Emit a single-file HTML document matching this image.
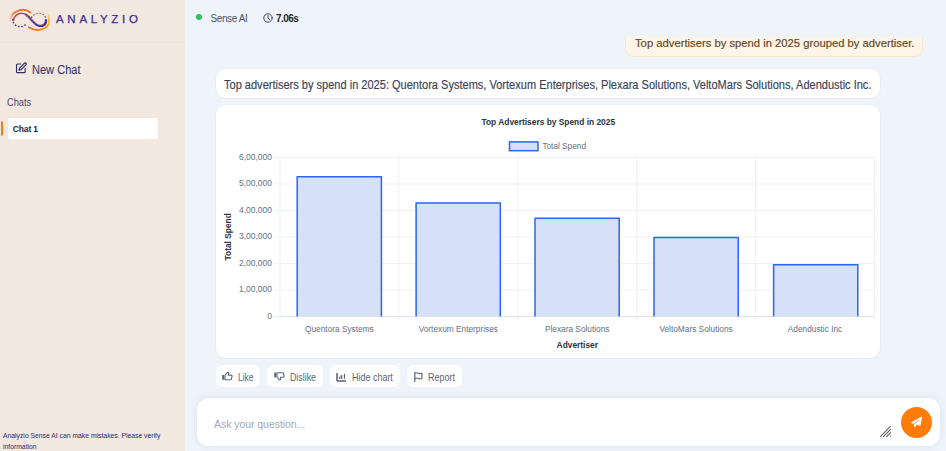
<!DOCTYPE html>
<html><head><meta charset="utf-8">
<style>
*{box-sizing:border-box;margin:0;padding:0}
html,body{width:946px;height:451px;overflow:hidden;font-family:"Liberation Sans",sans-serif;background:#eff4fb}
.abs{position:absolute}
#side{position:absolute;left:0;top:0;width:185px;height:451px;background:#f2e8df}
#side .sep{position:absolute;left:0;top:42px;width:185px;height:1px;background:#eee3d9}
.brand{-webkit-text-stroke:0.25px #3b2c8c;position:absolute;left:56px;top:12px;font-size:11.5px;letter-spacing:3.7px;color:#3b2c8c;line-height:14px}
.newchat{transform:scaleX(0.92);transform-origin:0 0;-webkit-text-stroke:0.1px #33376a;position:absolute;left:32px;top:63.2px;font-size:12px;color:#33376a;line-height:14px}
.chats{transform:scaleX(0.9);transform-origin:0 0;position:absolute;left:7px;top:96.6px;font-size:10.3px;color:#4a4670;line-height:12px}
.chat1{position:absolute;left:8px;top:118px;width:150px;height:21px;background:#fff;border-radius:2px}
.chat1 span{position:absolute;left:4.7px;top:6.3px;font-size:8.5px;letter-spacing:-0.12px;font-weight:bold;color:#1e1d4f;line-height:10px}
.obar{position:absolute;left:0.8px;top:120.8px;width:2.6px;height:15px;background:#ff7a00;border-radius:0 2px 2px 0}
.foot{transform:scaleX(0.905);transform-origin:0 0;position:absolute;left:3px;top:431.2px;width:190px;font-size:7.5px;color:#2b2a66;line-height:10.7px}
#main{position:absolute;left:185px;top:0;width:761px;height:451px}
.dot{position:absolute;left:196px;top:14px;width:6px;height:6px;border-radius:50%;background:#22c55e}
.sense{position:absolute;left:210.5px;top:13px;font-size:10px;letter-spacing:-0.4px;color:#4d5566;line-height:12px}
.time{position:absolute;left:276px;top:12.6px;font-size:10px;font-weight:bold;letter-spacing:-0.55px;color:#1f2633;line-height:12px}
.ubub{position:absolute;left:625px;top:37px;width:298px;height:20px;background:#fef4e7;border:1px solid #fde7c9;border-top:none;border-radius:0 0 9px 9px}
.ubub span{-webkit-text-stroke:0.15px #62451c;transform:scaleX(0.97);transform-origin:0 0;position:absolute;left:9px;top:-1.4px;font-size:11.6px;letter-spacing:0px;color:#62451c;line-height:14px;white-space:nowrap}
.aibub{position:absolute;left:214.5px;top:68.3px;width:666.5px;height:30.7px;background:#fff;border:1px solid #e9edf4;border-radius:11px}
.aibub span{-webkit-text-stroke:0.15px #3a4257;transform:scaleX(0.897);transform-origin:0 0;position:absolute;left:8.6px;top:8.7px;font-size:12.3px;letter-spacing:0px;color:#3a4257;line-height:14px;white-space:nowrap}
.card{position:absolute;left:214.5px;top:104.3px;width:666.5px;height:254.7px;background:#fff;border:1px solid #e9edf4;border-radius:11px}
.btn{position:absolute;top:364.8px;height:22px;background:#fff;border:1px solid #fdfeff;border-radius:6px}
.btn span{transform-origin:0 0;position:absolute;top:5.8px;font-size:10.2px;color:#5b6579;line-height:12px;white-space:nowrap}
.btn svg{position:absolute;top:5.5px}
.inputbox{position:absolute;left:197px;top:398px;width:743px;height:48px;background:#fff;border-radius:12px;box-shadow:0 0 8px rgba(30,50,90,0.10)}
.ph{position:absolute;left:214px;top:418.4px;font-size:10.5px;letter-spacing:-0.05px;color:#a2a8b3;line-height:13px}
.send{position:absolute;left:901px;top:407px;width:31px;height:31px;border-radius:50%;background:#ff7c0a}
</style></head><body>
<div id="side">
  <svg class="abs" style="left:6px;top:4px" width="48" height="30" viewBox="0 0 48 30">
    <defs>
      <linearGradient id="g1" gradientUnits="userSpaceOnUse" x1="3" y1="14" x2="25" y2="6"><stop offset="0" stop-color="#f2b58a" stop-opacity="0.5"/><stop offset="0.25" stop-color="#ef7a30"/><stop offset="1" stop-color="#f07020"/></linearGradient>
      <linearGradient id="g2" gradientUnits="userSpaceOnUse" x1="22" y1="24" x2="43" y2="10"><stop offset="0" stop-color="#f06a1a"/><stop offset="0.6" stop-color="#f59a20"/><stop offset="0.9" stop-color="#f5c040"/><stop offset="1" stop-color="#f5d070" stop-opacity="0.4"/></linearGradient>
      <linearGradient id="g3" gradientUnits="userSpaceOnUse" x1="7" y1="10" x2="40" y2="20"><stop offset="0" stop-color="#c0604a"/><stop offset="0.45" stop-color="#7a4478"/><stop offset="1" stop-color="#4b2f98"/></linearGradient>
      <linearGradient id="g4" gradientUnits="userSpaceOnUse" x1="25" y1="10" x2="40" y2="16"><stop offset="0" stop-color="#5a3c9a"/><stop offset="0.3" stop-color="#c27070"/><stop offset="0.7" stop-color="#c86850"/><stop offset="1" stop-color="#5a3a9a"/></linearGradient>
    </defs>
    <path d="M4 16.5 C 5 7.5, 17 2.5, 24.3 8.4" fill="none" stroke="url(#g1)" stroke-width="1.9" stroke-linecap="round"/>
    <path d="M22.8 23.2 C 30 28.2, 43.5 26.5, 43 16 L 42.6 11" fill="none" stroke="url(#g2)" stroke-width="1.9" stroke-linecap="round"/>
    <path d="M7.3 16.5 C 8.5 10, 15 7.5, 20 10.6" fill="none" stroke="url(#g3)" stroke-width="1.6" stroke-linecap="round"/><path d="M20 10.6 C 24 13.2, 27 19.5, 32 21.6 C 36.5 23, 40.5 20.5, 40 16" fill="none" stroke="url(#g3)" stroke-width="2.2" stroke-linecap="round"/>
    <path d="M6.8 15.3 C 6.5 21.5, 14 25.5, 20 20.3" fill="none" stroke="#4e3a98" stroke-width="1.5" stroke-linecap="round" stroke-dasharray="0.4 2.9"/>
    <path d="M25.6 13.3 C 29 8.2, 37.5 7.3, 40 14.5" fill="none" stroke="url(#g4)" stroke-width="1.4" stroke-linecap="round" stroke-dasharray="0.4 2.8"/>
  </svg>
  <div class="brand">ANALYZIO</div>
  <div class="sep"></div>
  <svg class="abs" style="left:14.8px;top:62.4px" width="12.2" height="12.2" viewBox="0 0 24 24" fill="none" stroke="#2b2e66" stroke-width="2.3" stroke-linecap="round" stroke-linejoin="round">
    <path d="M11 4H5a2 2 0 0 0-2 2v13a2 2 0 0 0 2 2h13a2 2 0 0 0 2-2v-6"/>
    <path d="M18.5 2.5a2.1 2.1 0 0 1 3 3L12 15l-4 1 1-4 9.5-9.5z"/>
  </svg>
  <div class="newchat">New Chat</div>
  <div class="chats">Chats</div>
  <div class="obar"></div>
  <div class="chat1"><span>Chat 1</span></div>
  <div class="foot">Analyzio Sense AI can make mistakes. Please verify information</div>
</div>

<div class="dot"></div>
<div class="sense">Sense AI</div>
<svg class="abs" style="left:263px;top:13px" width="10" height="10" viewBox="0 0 10 10" fill="none" stroke="#3a4560" stroke-width="1" stroke-linecap="round">
  <circle cx="5" cy="5" r="4.2"/><path d="M5 2.6V5.2L6.7 6.4"/>
</svg>
<div class="time">7.06s</div>

<div class="ubub"><span>Top advertisers by spend in 2025 grouped by advertiser.</span></div>
<div class="aibub"><span>Top advertisers by spend in 2025: Quentora Systems, Vortexum Enterprises, Plexara Solutions, VeltoMars Solutions, Adendustic Inc.</span></div>
<div class="card"></div>

<!-- CHART -->
<svg class="abs" style="left:0;top:0" width="946" height="451" viewBox="0 0 946 451" font-family="Liberation Sans">
  <g stroke="#f0f1f4" stroke-width="1">
    <line x1="274" y1="157.5" x2="875" y2="157.5"/>
    <line x1="274" y1="184" x2="875" y2="184"/>
    <line x1="274" y1="210.5" x2="875" y2="210.5"/>
    <line x1="274" y1="237" x2="875" y2="237"/>
    <line x1="274" y1="263.5" x2="875" y2="263.5"/>
    <line x1="274" y1="290" x2="875" y2="290"/>
    <line x1="280" y1="157" x2="280" y2="321"/>
    <line x1="398.9" y1="157" x2="398.9" y2="321"/>
    <line x1="517.8" y1="157" x2="517.8" y2="321"/>
    <line x1="636.7" y1="157" x2="636.7" y2="321"/>
    <line x1="755.6" y1="157" x2="755.6" y2="321"/>
    <line x1="874.5" y1="157" x2="874.5" y2="321"/>
  </g>
  <line x1="274" y1="316.5" x2="875" y2="316.5" stroke="#e2e5ea" stroke-width="1"/>
  <g fill="#d6e1f8"><rect x="297.2" y="176.8" width="84.2" height="139.7"/><rect x="416.1" y="203" width="84.2" height="113.5"/><rect x="535" y="218.2" width="84.2" height="98.30000000000001"/><rect x="654" y="237.5" width="84.2" height="79.0"/><rect x="773.6" y="264.8" width="84.2" height="51.69999999999999"/></g>
  <g fill="none" stroke="#2b66ee" stroke-width="1.5"><path d="M297.2 316.5 V176.8 H381.4 V316.5"/><path d="M416.1 316.5 V203 H500.3 V316.5"/><path d="M535 316.5 V218.2 H619.2 V316.5"/><path d="M654 316.5 V237.5 H738.2 V316.5"/><path d="M773.6 316.5 V264.8 H857.8 V316.5"/></g>
  <g fill="#637084" font-size="8.5" text-anchor="end">
    <text x="272" y="159.5">6,00,000</text>
    <text x="272" y="186">5,00,000</text>
    <text x="272" y="212.5">4,00,000</text>
    <text x="272" y="239">3,00,000</text>
    <text x="272" y="265.5">2,00,000</text>
    <text x="272" y="292">1,00,000</text>
    <text x="272" y="318.5">0</text>
  </g>
  <g fill="#637084" font-size="8.3" text-anchor="middle">
    <text x="339.4" y="332">Quentora Systems</text>
    <text x="458.3" y="332">Vortexum Enterprises</text>
    <text x="577.2" y="332">Plexara Solutions</text>
    <text x="696.1" y="332">VeltoMars Solutions</text>
    <text x="815" y="332">Adendustic Inc</text>
  </g>
  <text x="577.3" y="348" font-size="8.4" font-weight="bold" fill="#2b3342" text-anchor="middle">Advertiser</text>
  <text x="548.3" y="125.2" font-size="8.4" font-weight="bold" fill="#2b3342" text-anchor="middle">Top Advertisers by Spend in 2025</text>
  <rect x="509.5" y="141.9" width="28.5" height="8.8" fill="#d6e1f8" stroke="#2b66ee" stroke-width="1.5"/>
  <text x="542.4" y="149" font-size="8.25" fill="#637084">Total Spend</text>
  <text transform="translate(231.3 236.8) rotate(-90)" font-size="8.4" font-weight="bold" fill="#2b3342" text-anchor="middle">Total Spend</text>
</svg>

<!-- BUTTONS -->
<div class="btn" style="left:215.5px;width:44.5px">
  <svg style="left:5.5px;top:6.5px" width="11" height="9" viewBox="0 0 11 9"><rect x="0.2" y="3" width="2" height="4.8" fill="#5b6579"/><path d="M3 3.4 L5.3 0.6 Q6.6 0.2 6.7 1.4 L6.3 3.1 L9.2 3.1 Q10.3 3.2 10 4.3 L9.4 7 Q9.2 7.7 8.5 7.7 L3 7.7 Z" fill="none" stroke="#5b6579" stroke-width="1.1" stroke-linejoin="round"/></svg>
  <span style="left:21.3px;transform:scaleX(0.83)">Like</span>
</div>
<div class="btn" style="left:267px;width:55.5px">
  <svg style="left:6px;top:6.5px" width="11" height="9" viewBox="0 0 11 9"><rect x="0.2" y="0.6" width="2" height="4.8" fill="#5b6579"/><path d="M3 5 L5.3 7.8 Q6.6 8.2 6.7 7 L6.3 5.3 L9.2 5.3 Q10.3 5.2 10 4.1 L9.4 1.4 Q9.2 0.7 8.5 0.7 L3 0.7 Z" fill="none" stroke="#5b6579" stroke-width="1.1" stroke-linejoin="round"/></svg>
  <span style="left:21.6px;transform:scaleX(0.865)">Dislike</span>
</div>
<div class="btn" style="left:329.5px;width:70.5px">
  <svg style="left:5.6px;top:7.2px" width="10" height="9" viewBox="0 0 10 9"><path d="M1 0.6 V7.2 Q1 8 1.8 8 H9.6" fill="none" stroke="#5b6579" stroke-width="1.6" stroke-linecap="round"/><rect x="2.9" y="3.7" width="1.2" height="2.1" fill="#5b6579"/><rect x="4.6" y="2.2" width="1.7" height="3.6" fill="#5b6579"/><rect x="7.9" y="0.9" width="1.2" height="4.9" fill="#5b6579"/></svg>
  <span style="left:21.1px;transform:scaleX(0.88)">Hide chart</span>
</div>
<div class="btn" style="left:407px;width:54.5px">
  <svg style="left:6px;top:6.5px" width="9" height="10" viewBox="0 0 9 10"><path d="M0.8 0.6 V9.4" fill="none" stroke="#5b6579" stroke-width="1.2" stroke-linecap="round"/><path d="M0.8 1.2 Q2.5 0.4 4.2 1.2 Q6 2 7.9 1.2 V6.4 Q6 7.2 4.2 6.4 Q2.5 5.6 0.8 6.4" fill="none" stroke="#5b6579" stroke-width="1.1" stroke-linejoin="round"/></svg>
  <span style="left:20.1px;transform:scaleX(0.88)">Report</span>
</div>

<!-- INPUT -->
<div class="inputbox"></div>
<div class="ph">Ask your question...</div>
<svg class="abs" style="left:874px;top:420px" width="22" height="20" viewBox="0 0 22 20" stroke="#5c5c5c" stroke-width="1.05" stroke-linecap="round">
  <path d="M6.4 16.6 L16.4 6.4"/><path d="M9.5 16.6 L16.6 9.3"/><path d="M12.6 16.6 L16.6 12.6"/><path d="M16.3 16.3 L16.4 16.2"/>
</svg>
<div class="send"></div>
<svg class="abs" style="left:909px;top:414px" width="15" height="16" viewBox="0 0 15 16">
  <path d="M13.25 2.18 L11.36 11.98 L7.97 10.48 L5.7 13.87 L4.95 10.48 L1.94 8.59 Z" fill="#fff"/><path d="M10.2 5.6 L4.9 10.2" stroke="#ff7c0a" stroke-width="0.9" fill="none"/>
</svg>
</body></html>
